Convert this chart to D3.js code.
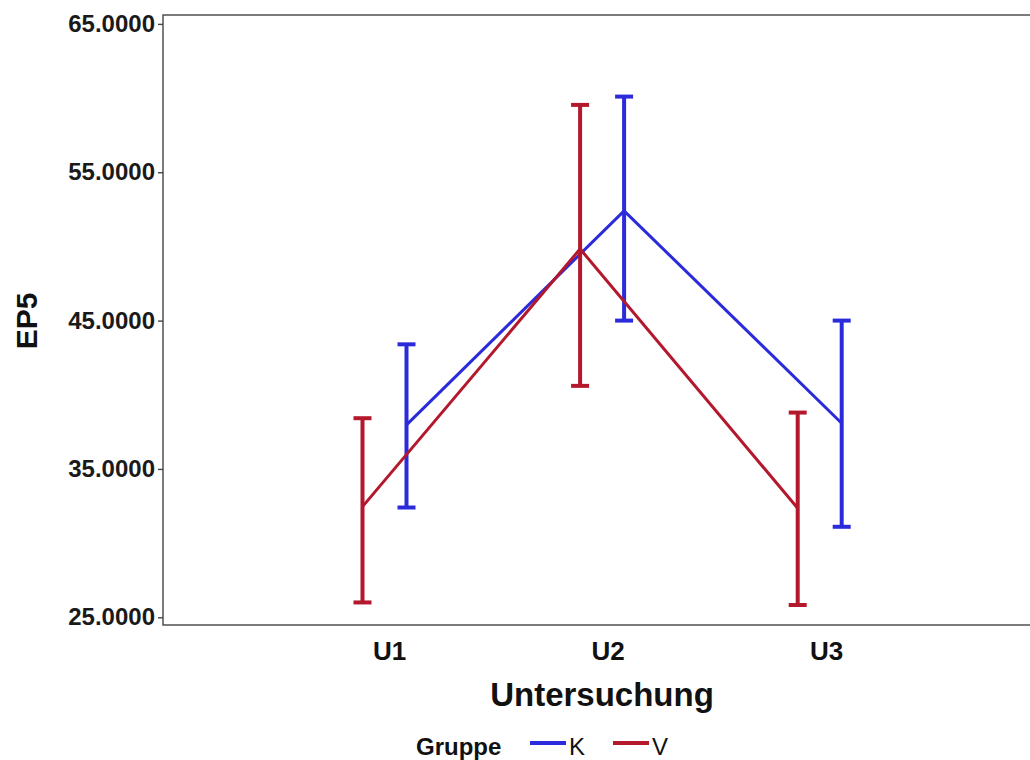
<!DOCTYPE html>
<html>
<head>
<meta charset="utf-8">
<script src="https://cdn.jsdelivr.net/npm/d3@7"></script>
<style>
  html, body { margin: 0; padding: 0; background: #ffffff; }
  svg { display: block; font-family: "Liberation Sans", Arial, sans-serif; }
</style>
</head>
<body>
<svg id="chart" width="1030" height="760"></svg>
<script>
// Untersuchungen (x categories) and groups
const categories = ["U1", "U2", "U3"];
const groups = ["K", "V"];

// Group K: mean and error bar limits per Untersuchung
const kMean = [37.97, 52.40, 38.08];
const kLow  = [32.40, 45.00, 31.10];
const kHigh = [43.40, 60.10, 45.00];

// Group V: mean and error bar limits per Untersuchung
const vMean = [32.46, 49.83, 32.35];
const vLow  = [26.00, 40.60, 25.83];
const vHigh = [38.42, 59.54, 38.80];

// Y axis ticks
const yTicks = [25, 35, 45, 55, 65];

const colors = { K: "#2b2bdb", V: "#b3182d" };

const seriesData = [
  { group: "K", mean: kMean, low: kLow, high: kHigh },
  { group: "V", mean: vMean, low: vLow, high: vHigh }
];

const svg = d3.select("#chart");

const panel = { left: 163, top: 15, right: 1041, bottom: 625 };

const y = d3.scaleLinear()
  .domain([24.48, 65.6])
  .range([panel.bottom, panel.top]);

// Marker positions for the groups
const x = d3.scalePoint()
  .domain(categories)
  .range([384.5, 819.7]);

const dodge = d3.scalePoint()
  .domain(groups)
  .range([22, -22]);

// Category label positions on the x axis
const xLabels = d3.scalePoint()
  .domain(categories)
  .range([389, 826]);

// Panel frame (right edge runs past the page)
svg.append("rect")
  .attr("x", panel.left)
  .attr("y", panel.top)
  .attr("width", panel.right - panel.left)
  .attr("height", panel.bottom - panel.top)
  .attr("fill", "none")
  .attr("stroke", "#444")
  .attr("stroke-width", 1.4);

// Y axis
const yAxis = svg.append("g")
  .attr("transform", `translate(${panel.left},0)`)
  .call(d3.axisLeft(y).tickValues(yTicks).tickFormat(d3.format(".4f")).tickSize(5).tickPadding(3));
yAxis.select(".domain").remove();
yAxis.selectAll(".tick line").attr("stroke", "#444").attr("stroke-width", 1.4);
yAxis.selectAll(".tick text")
  .attr("fill", "#1a1a1a")
  .attr("font-size", 24)
  .attr("font-weight", "bold")
  .attr("font-family", "Liberation Sans, Arial, sans-serif");

// X axis labels
const xAxis = svg.append("g")
  .attr("transform", `translate(0,${panel.bottom})`)
  .call(d3.axisBottom(xLabels).tickSize(0).tickPadding(17));
xAxis.select(".domain").remove();
xAxis.selectAll(".tick text")
  .attr("fill", "#111")
  .attr("font-size", 26)
  .attr("font-weight", "bold")
  .attr("font-family", "Liberation Sans, Arial, sans-serif");

// Axis titles
svg.append("text")
  .attr("x", 602)
  .attr("y", 706)
  .attr("text-anchor", "middle")
  .attr("font-size", 33)
  .attr("font-weight", "bold")
  .attr("fill", "#111")
  .text("Untersuchung");

svg.append("text")
  .attr("transform", "translate(37,321) rotate(-90)")
  .attr("text-anchor", "middle")
  .attr("font-size", 30)
  .attr("font-weight", "bold")
  .attr("fill", "#111")
  .text("EP5");

// Lines and error bars, one group at a time
const capHalf = 9;
seriesData.forEach(s => {
  const g = svg.append("g").attr("class", "series-" + s.group);
  const px = i => x(categories[i]) + dodge(s.group);
  const line = d3.line()
    .x((d, i) => px(i))
    .y(d => y(d));
  g.append("path")
    .datum(s.mean)
    .attr("d", line)
    .attr("fill", "none")
    .attr("stroke", colors[s.group])
    .attr("stroke-width", 3);

  categories.forEach((c, i) => {
    const cx = px(i);
    g.append("line")
      .attr("x1", cx).attr("x2", cx)
      .attr("y1", y(s.low[i])).attr("y2", y(s.high[i]))
      .attr("stroke", colors[s.group]).attr("stroke-width", 4);
    [s.low[i], s.high[i]].forEach(v => {
      g.append("line")
        .attr("x1", cx - capHalf).attr("x2", cx + capHalf)
        .attr("y1", y(v)).attr("y2", y(v))
        .attr("stroke", colors[s.group]).attr("stroke-width", 4);
    });
  });
});

// Legend
const legend = svg.append("g");
legend.append("text")
  .attr("x", 416).attr("y", 755)
  .attr("font-size", 24).attr("font-weight", "bold").attr("fill", "#111")
  .text("Gruppe");
const legendX = d3.scalePoint().domain(groups).range([530, 613]);
groups.forEach(gname => {
  const lx = legendX(gname);
  legend.append("line")
    .attr("x1", lx).attr("x2", lx + 36)
    .attr("y1", 743).attr("y2", 743)
    .attr("stroke", colors[gname]).attr("stroke-width", 4);
  legend.append("text")
    .attr("x", lx + 39).attr("y", 755)
    .attr("font-size", 24).attr("fill", "#111")
    .text(gname);
});
</script>
</body>
</html>
